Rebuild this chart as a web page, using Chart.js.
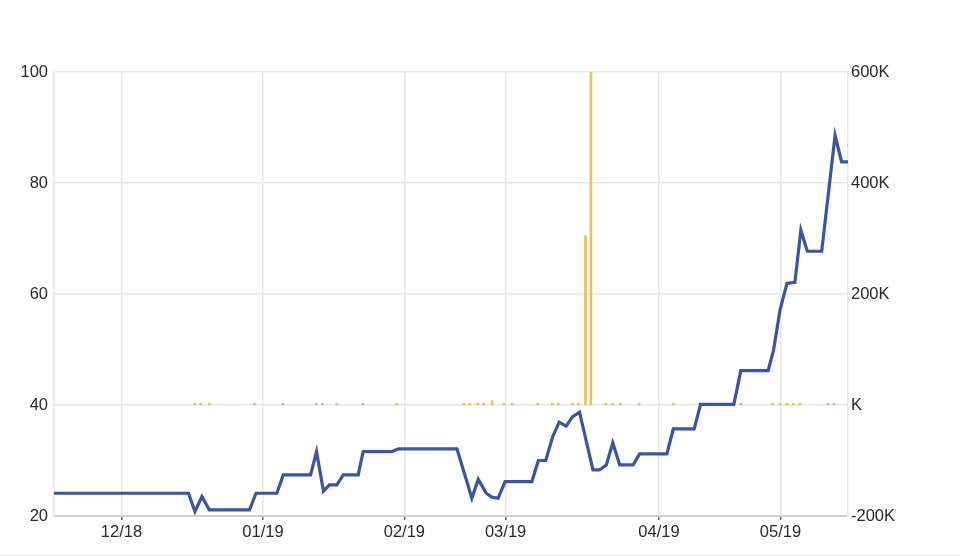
<!DOCTYPE html>
<html>
<head>
<meta charset="utf-8">
<script src="https://cdn.jsdelivr.net/npm/chart.js@4/dist/chart.umd.min.js"></script>
<style>
  html, body { margin: 0; padding: 0; background: #fff; }
  #wrap { width: 960px; height: 555px; border-bottom: 1px solid #e2e2e2; }
</style>
</head>
<body>
<div id="wrap"><canvas id="c" width="960" height="555"></canvas></div>
<script>
// x positions are in "session" units along the time axis
const tickPos    = [13.6, 42.1, 70.6, 91.0, 121.9, 146.4];
const tickLabels = ['12/18', '01/19', '02/19', '03/19', '04/19', '05/19'];

const lineX = [0, 27.1, 28.4, 29.8, 31.3, 39.4, 40.7, 44.9, 46.2, 51.7, 52.9, 54.3, 55.5, 57.0, 58.3, 61.3, 62.3, 68.1, 69.4,
  81.2, 84.2, 85.5, 87.1, 88.2, 89.5, 90.9, 96.3, 97.6, 99.1, 100.5, 101.8, 103.2, 104.5, 105.9, 108.6, 109.9, 111.3, 112.6,
  114.0, 116.7, 118.0, 123.5, 124.8, 129.0, 130.3, 137.0, 138.4, 143.9, 145.0, 146.3, 147.7, 149.3, 150.5, 151.8, 154.7,
  157.4, 158.7, 160];
const lineY = [24.1, 24.1, 20.8, 23.5, 21.1, 21.1, 24.1, 24.1, 27.4, 27.4, 31.6, 24.5, 25.6, 25.6, 27.4, 27.4, 31.6, 31.6, 32.1,
  32.1, 23.2, 26.6, 24.1, 23.4, 23.2, 26.2, 26.2, 30.0, 30.0, 34.3, 36.9, 36.2, 37.9, 38.7, 28.3, 28.3, 29.2, 33.2,
  29.2, 29.2, 31.2, 31.2, 35.7, 35.7, 40.1, 40.1, 46.2, 46.2, 49.9, 57.1, 61.9, 62.1, 71.5, 67.7, 67.7,
  88.6, 83.8, 83.8];

const barX = [28.4, 29.6, 31.3, 40.4, 46.1, 52.9, 54.1, 57.0, 62.2, 69.1, 82.6, 83.8, 85.4, 86.6, 88.3, 90.7, 92.3, 97.5,
  100.4, 101.6, 104.5, 105.7, 107.1, 108.2, 111.2, 112.6, 114.1, 117.9, 124.8, 130.2, 138.4, 144.8, 146.3, 147.7, 149.0,
  150.3, 156.0, 157.2];
const barY = [3000, 3000, 3000, 3000, 3000, 3000, 3000, 3000, 3000, 3000, 3000, 3000, 3000, 3000, 8000, 3000, 3000, 3000,
  3000, 3000, 3000, 3000, 305000, 600000, 3000, 3000, 3000, 3000, 3000, 3000, 3000, 3000, 3000, 3000, 3000,
  3000, 3000, 3000];

const font = { family: 'Arial, "Liberation Sans", sans-serif', size: 16.5 };
const textColor = '#2a2a2a';
const gridColor = '#e8e8e8';

new Chart(document.getElementById('c'), {
  data: {
    datasets: [
      {
        type: 'line',
        data: lineX.map((x, i) => ({ x, y: lineY[i] })),
        borderColor: '#3a54a6',
        borderWidth: 3.2,
        pointRadius: 0,
        tension: 0,
        yAxisID: 'y',
        order: 0
      },
      {
        type: 'bar',
        data: barX.map((x, i) => ({ x, y: barY[i] })),
        backgroundColor: '#e4c35a',
        barThickness: 2,
        yAxisID: 'y2',
        order: 1
      }
    ]
  },
  options: {
    responsive: false,
    animation: false,
    layout: { padding: { top: 72, left: 0, right: 0, bottom: 0 } },
    plugins: { legend: { display: false }, tooltip: { enabled: false } },
    scales: {
      x: {
        type: 'linear',
        min: 0,
        max: 160,
        offset: false,
        afterBuildTicks: (s) => { s.ticks = tickPos.map(v => ({ value: v })); },
        afterFit: (s) => { s.height = 39; },
        ticks: {
          autoSkip: false,
          maxRotation: 0,
          padding: 3,
          color: textColor,
          font: font,
          callback: (v) => { const i = tickPos.indexOf(v); return i >= 0 ? tickLabels[i] : ''; }
        },
        grid: { offset: false, color: gridColor, lineWidth: 1.5, tickLength: 4, tickColor: '#666', tickWidth: 1.5 },
        border: { color: '#cfcfcf', width: 2 }
      },
      y: {
        position: 'left',
        min: 20,
        max: 100,
        afterFit: (s) => { s.width = 54; },
        ticks: { stepSize: 20, padding: 6, color: textColor, font: font },
        grid: { color: gridColor, lineWidth: 1.5, drawTicks: false },
        border: { color: gridColor, width: 1.5 }
      },
      y2: {
        position: 'right',
        min: -200000,
        max: 600000,
        afterFit: (s) => { s.width = 112; },
        ticks: {
          stepSize: 200000,
          padding: 3,
          color: textColor,
          font: font,
          callback: (v) => v === 0 ? 'K' : (v / 1000) + 'K'
        },
        grid: { display: false, drawTicks: false },
        border: { color: gridColor, width: 1.5 }
      }
    }
  }
});
</script>
</body>
</html>
